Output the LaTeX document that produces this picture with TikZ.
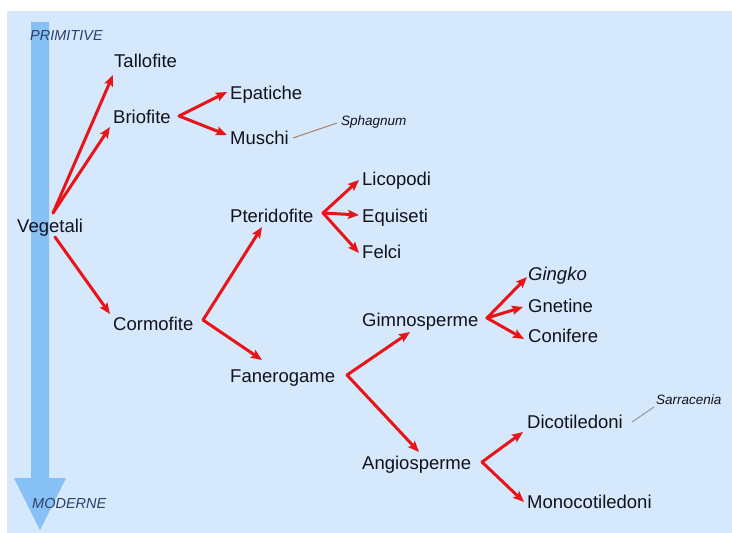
\documentclass[tikz,border=0pt]{standalone}
\usepackage{fontspec}
\setmainfont{Liberation Sans}
\usetikzlibrary{arrows.meta}
\definecolor{bgblue}{RGB}{214,232,252}
\definecolor{bigarrow}{RGB}{135,192,245}
\definecolor{axislbl}{RGB}{45,65,105}
\definecolor{arrred}{RGB}{232,20,24}
\definecolor{txt}{RGB}{18,18,28}
\definecolor{notebrown}{RGB}{170,128,100}
\definecolor{notegray}{RGB}{150,150,160}
\tikzset{
  taxon/.style={anchor=base west, inner sep=0pt, text=txt, font=\fontsize{18.5}{20}\selectfont},
  taxonit/.style={taxon, font=\fontsize{18.5}{20}\selectfont\itshape},
  example/.style={anchor=base west, inner sep=0pt, text=txt, font=\fontsize{13.5}{15}\selectfont\itshape},
  axislabel/.style={anchor=base west, inner sep=0pt, text=axislbl, font=\fontsize{14.5}{16}\selectfont\itshape},
  branch/.style={draw=arrred, line width=3pt, line cap=round, line join=miter,
    -{Stealth[length=11pt,width=9pt,inset=2pt]}},
  noteline/.style={line width=1pt},
}
\begin{document}
\begin{tikzpicture}[x=1pt,y=-1pt]
\useasboundingbox (0,0) rectangle (732,533);
\fill[white] (0,0) rectangle (732,533);
\fill[bgblue] (7,11) rectangle (732,533);
% time arrow
\fill[bigarrow] (31,22) -- (49,22) -- (49,478) -- (66,478) -- (40,530) -- (14,478) -- (31,478) -- cycle;
\node[axislabel] (prim) at (30,40) {PRIMITIVE};
\node[axislabel] (mode) at (32,508) {MODERNE};
% taxa
\node[taxon] (vege) at (17,232) {Vegetali};
\node[taxon] (tall) at (114,67) {Tallofite};
\node[taxon] (brio) at (113,123) {Briofite};
\node[taxon] (epat) at (230,99) {Epatiche};
\node[taxon] (musc) at (230,144) {Muschi};
\node[example] (sphag) at (341,125) {Sphagnum};
\node[taxon] (pter) at (230,222) {Pteridofite};
\node[taxon] (lico) at (362,185) {Licopodi};
\node[taxon] (equi) at (362,222) {Equiseti};
\node[taxon] (felc) at (362,258) {Felci};
\node[taxon] (corm) at (113,330) {Cormofite};
\node[taxon] (fane) at (230,382) {Fanerogame};
\node[taxon] (gimn) at (362,326) {Gimnosperme};
\node[taxonit] (ging) at (528,280) {Gingko};
\node[taxon] (gnet) at (528,312) {Gnetine};
\node[taxon] (coni) at (528,342) {Conifere};
\node[taxon] (angi) at (362,469) {Angiosperme};
\node[taxon] (dico) at (527,428) {Dicotiledoni};
\node[example] (sarr) at (656,404) {Sarracenia};
\node[taxon] (mono) at (527,508) {Monocotiledoni};
% branches
\draw[branch] ([shift={(36,-19)}]vege.base west) -- ([shift={(-1,8)}]tall.base west);
\draw[branch] ([shift={(36,-19)}]vege.base west) -- ([shift={(-3,4)}]brio.base west);
\draw[branch] ([shift={(38,5)}]vege.base west) -- ([shift={(-3,-16)}]corm.base west);
\draw[branch] ([shift={(66,-7)}]brio.base west) -- ([shift={(-3,-7)}]epat.base west);
\draw[branch] ([shift={(66,-7)}]brio.base west) -- ([shift={(-3,-9)}]musc.base west);
\draw[branch] ([shift={(90,-10)}]corm.base west) -- ([shift={(32,5)}]pter.base west);
\draw[branch] ([shift={(90,-10)}]corm.base west) -- ([shift={(32,-22)}]fane.base west);
\draw[branch] ([shift={(93,-9)}]pter.base west) -- ([shift={(-3,-5)}]lico.base west);
\draw[branch] ([shift={(93,-9)}]pter.base west) -- ([shift={(-3,-7)}]equi.base west);
\draw[branch] ([shift={(93,-9)}]pter.base west) -- ([shift={(-3,-5)}]felc.base west);
\draw[branch] ([shift={(117,-7)}]fane.base west) -- ([shift={(48,6)}]gimn.base west);
\draw[branch] ([shift={(117,-7)}]fane.base west) -- ([shift={(57,-17)}]angi.base west);
\draw[branch] ([shift={(125,-8)}]gimn.base west) -- ([shift={(-1,-3)}]ging.base west);
\draw[branch] ([shift={(125,-8)}]gimn.base west) -- ([shift={(-5,-5)}]gnet.base west);
\draw[branch] ([shift={(125,-8)}]gimn.base west) -- ([shift={(-4,-3)}]coni.base west);
\draw[branch] ([shift={(120,-7)}]angi.base west) -- ([shift={(-4,4)}]dico.base west);
\draw[branch] ([shift={(120,-7)}]angi.base west) -- ([shift={(-3,-6)}]mono.base west);
% example links
\draw[noteline, notebrown] ([shift={(63,-6)}]musc.base west) -- ([shift={(-4,-2)}]sphag.base west);
\draw[noteline, notegray] ([shift={(105,-6)}]dico.base west) -- ([shift={(-2,3)}]sarr.base west);
\end{tikzpicture}
\end{document}
